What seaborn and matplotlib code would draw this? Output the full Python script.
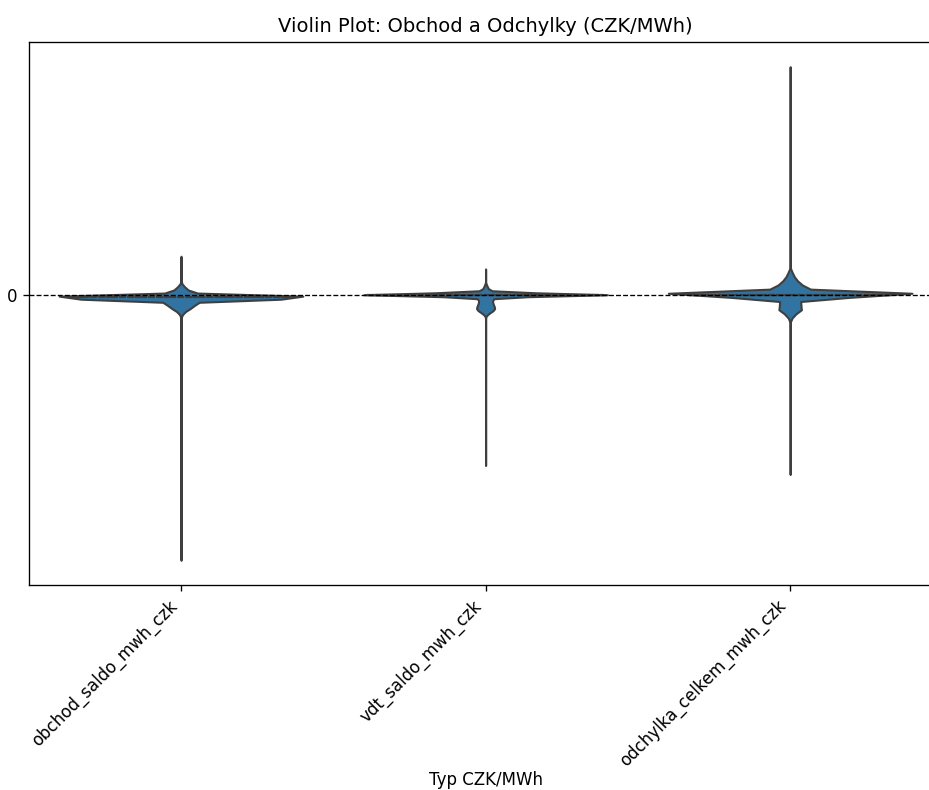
import numpy as np
import pandas as pd
import matplotlib
matplotlib.use("Agg")
import matplotlib.pyplot as plt
import seaborn as sns

# Distinct price levels (CZK/MWh) and how many hours sit at each level
categories = ["obchod_saldo_mwh_czk", "vdt_saldo_mwh_czk", "odchylka_celkem_mwh_czk"]

obchod_values = [875, 600, 400, 250, 200, 150, 100, 50, 0, -50, -70, -100, -150, -200,
                 -250, -300, -350, -400, -450, -500, -650, -900, -1300, -1800, -2400,
                 -3100, -3900, -4700, -5500, -6550]
obchod_counts = [1, 1, 1, 10, 25, 40, 60, 80, 100, 110, 2300, 120, 120, 120,
                 110, 90, 70, 40, 20, 10, 1, 1, 1, 1, 1, 1, 1, 1, 1, 1]

vdt_values = [575, 400, 250, 200, 150, 100, 50, 0, -50, -100, -150, -200, -250, -300,
              -350, -400, -450, -500, -650, -875, -1250, -1750, -2375, -3125, -4200]
vdt_counts = [1, 1, 10, 20, 30, 50, 80, 2300, 90, 80, 80, 80, 90, 100,
              110, 90, 50, 20, 1, 1, 1, 1, 1, 1, 1]

odchylka_values = [5600, 4250, 3000, 2000, 1250, 875, 600, 550, 500, 450, 400, 350, 300,
                   250, 200, 150, 100, 50, 0, -50, -100, -150, -200, -250, -300, -350,
                   -400, -450, -500, -550, -600, -875, -1250, -1875, -2750, -3500, -4400]
odchylka_counts = [1, 1, 1, 1, 1, 1, 10, 15, 20, 30, 35, 50, 65, 80, 100, 130, 150,
                   160, 2300, 120, 90, 70, 70, 70, 80, 90, 80, 50, 30, 20, 10,
                   1, 1, 1, 1, 1, 1]

frames = []
for name, vals, cnts in [(categories[0], obchod_values, obchod_counts),
                         (categories[1], vdt_values, vdt_counts),
                         (categories[2], odchylka_values, odchylka_counts)]:
    frames.append(pd.DataFrame({"Typ": name, "CZK/MWh": np.repeat(vals, cnts)}))
df = pd.concat(frames, ignore_index=True)

fig = plt.figure(figsize=(929 / 120, 790 / 120), dpi=120)
ax = fig.add_axes([0.03095, 0.2595, 0.9835, 0.6873])

sns.violinplot(data=df, x="Typ", y="CZK/MWh", order=categories, inner="quart",
               density_norm="width", ax=ax)
ax.axhline(0, color="black", linestyle="--", linewidth=0.8)

ax.set_title("Violin Plot: Obchod a Odchylky (CZK/MWh)", fontsize=11.7)
ax.set_xlabel("Typ CZK/MWh", labelpad=0.5)
ax.set_ylabel("")
ax.set_yticks([0])
plt.setp(ax.get_xticklabels(), rotation=45, ha="right")

fig.savefig("out.png", dpi=120)
